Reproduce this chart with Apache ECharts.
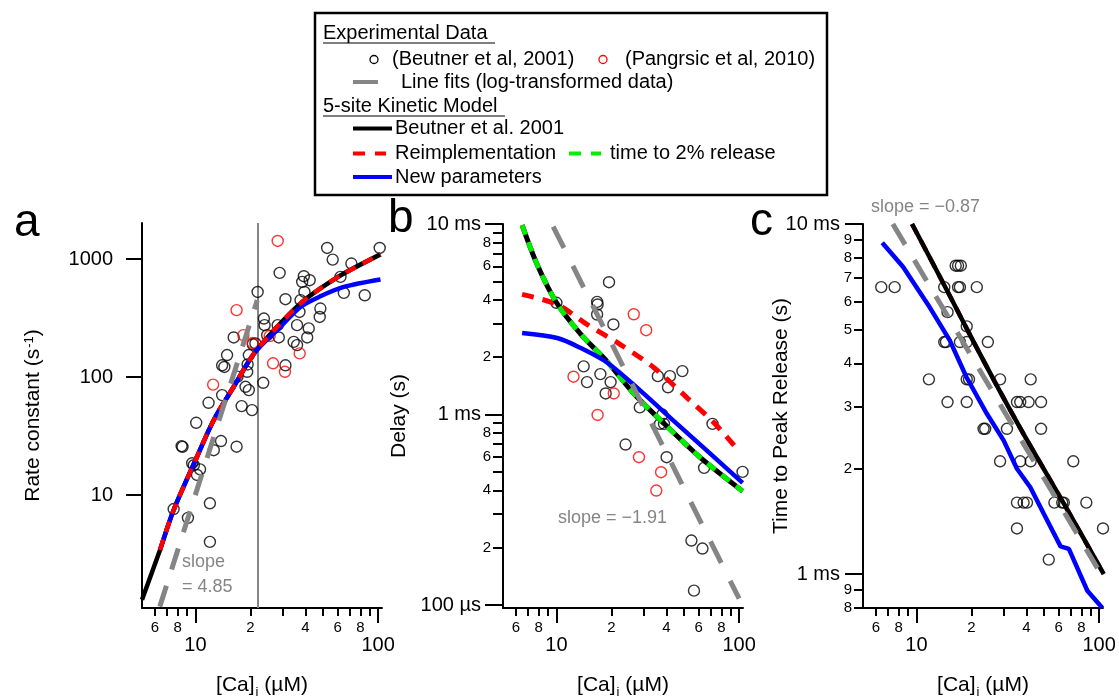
<!DOCTYPE html>
<html><head><meta charset="utf-8">
<script src="https://cdn.jsdelivr.net/npm/echarts@6/dist/echarts.min.js"></script>
<style>html,body{margin:0;padding:0;background:#fff}#c{width:1119px;height:698px}</style>
</head><body><div id="c"></div>
<script>
// ================= DATA =================
const caMin = 5.1, caMax = 105;
const xMinorTicks = [6, 7, 8, 9, 20, 30, 40, 50, 60, 70, 80, 90];
const xMinorLabels = [6, 8, 20, 40, 60, 80];
const xMajorTicks = [10, 100];

// Panel a: rate constant (s^-1) vs [Ca]i (uM)
const aYMin = 1.1, aYMax = 2030;
const aYTicks = [10, 100, 1000];
const aBeutnerPts = [[7.6,7.6],[9.1,6.4],[12.0,8.5],[12.0,4.0],[8.4,26],[8.5,25.6],[10.1,41],[9.6,18.6],[9.8,17.9],[10.6,16.5],[10.2,14.8],[12.6,24],[13.8,28.7],[16.8,25.7],[11.8,60.6],[14.0,70.4],[17.9,56.8],[20.4,52.5],[14.4,122],[14.0,126],[14.9,154],[16.2,217],[17.0,101],[18.8,82.8],[19.6,77.6],[19.3,128],[19.2,111],[19.6,154],[20.6,190],[21.9,528],[23.5,89.5],[23.7,314],[23.9,276],[24.7,227],[28.2,276],[28.6,217],[28.9,766],[31.1,458],[31.1,126],[34.5,199],[36.0,187],[36.0,276],[37.1,357],[37.6,450],[38.4,643],[39.2,718],[40.9,217],[41.7,259],[42.2,664],[39.5,528],[47.9,324],[48.3,382],[52.6,1247],[56.4,993],[62.2,708],[64.9,518],[71.4,920],[84.5,495],[102,1247],[21.3,193]];
const aPangrsicPts = [[28.2,1429],[16.8,370],[18.3,227],[20.6,195],[25.5,223],[12.5,86.4],[26.6,131],[30.9,111],[37.2,159]];
const aBeutnerModelCa = [5.1, 6.4, 7.6, 10.2, 12.6, 16.2, 20.9, 28, 37.6, 48.3, 64.9, 103];
const aBeutnerModelRate = [1.29, 3.42, 7.46, 21.1, 43.3, 82.8, 158, 267, 422, 565, 757, 1100];
const aReimplCa = [6.4, 7.6, 10.2, 12.6, 16.2, 20.9, 28, 37.6, 48.3, 64.9, 103];
const aReimplRate = [3.42, 7.46, 21.1, 43.3, 82.8, 158, 267, 422, 565, 757, 1100];
const aNewCa = [6.4, 7.6, 10.2, 12.6, 16.2, 20.9, 29.2, 37.6, 48.3, 64.9, 103];
const aNewRate = [3.42, 7.46, 21.1, 43.3, 82.8, 158, 267, 394, 485, 582, 673];
const aFitCa = [6.38, 21.8];
const aFitRate = [1.13, 450];
const aMarkCa = 22;

// Panel b: delay (s)
const bYMin = 0.0000965, bYMax = 0.01;
const bYMinorTicks = [2e-4,3e-4,4e-4,5e-4,6e-4,7e-4,8e-4,9e-4,2e-3,3e-3,4e-3,5e-3,6e-3,7e-3,8e-3,9e-3];
const bYMinorLabels = [2e-4,4e-4,6e-4,8e-4,2e-3,4e-3,6e-3,8e-3];
const bYMajorTicks = [1e-4, 1e-3, 1e-2];
const bBeutnerPts = [[10.0,3.86e-3],[16.7,3.90e-3],[16.8,3.78e-3],[16.7,3.35e-3],[19.4,4.95e-3],[20.5,2.97e-3],[14.1,1.79e-3],[14.7,1.48e-3],[17.4,1.63e-3],[19.8,1.48e-3],[18.6,1.29e-3],[28.6,1.09e-3],[23.9,0.696e-3],[35.9,1.59e-3],[41.8,1.59e-3],[40.8,1.39e-3],[48.9,1.69e-3],[38.0,1.0e-3],[36.9,0.893e-3],[38.8,0.893e-3],[71.5,0.893e-3],[40.1,0.597e-3],[64.3,0.525e-3],[104.4,0.5e-3],[54.8,0.218e-3],[63.0,0.198e-3],[56.6,0.119e-3]];
const bPangrsicPts = [[12.4,1.58e-3],[20.6,1.29e-3],[16.8,0.995e-3],[26.5,3.36e-3],[31.0,2.77e-3],[28.3,0.597e-3],[37.4,0.498e-3],[35.2,0.399e-3]];
const bBeutnerModelCa = [6.49, 7.83, 10, 13.5, 19, 26.5, 38.8, 61.6, 104.5];
const bBeutnerModelDelay = [9.86e-3, 6.15e-3, 3.87e-3, 2.66e-3, 1.89e-3, 1.29e-3, 0.897e-3, 0.592e-3, 0.396e-3];
const b2pctCa = [6.49, 7.83, 10, 13.5, 19, 26.5, 38.8, 61.6, 104.5];
const b2pctDelay = [9.86e-3, 6.15e-3, 3.87e-3, 2.66e-3, 1.89e-3, 1.29e-3, 0.897e-3, 0.592e-3, 0.396e-3];
const bReimplCa = [6.49, 10.1, 14.7, 22.4, 34.2, 52.1, 73, 94.6];
const bReimplDelay = [4.27e-3, 3.78e-3, 2.97e-3, 2.33e-3, 1.76e-3, 1.22e-3, 0.904e-3, 0.682e-3];
const bNewCa = [6.49, 10.1, 13.5, 19, 28.9, 44, 67.1, 104.5];
const bNewDelay = [2.68e-3, 2.52e-3, 2.24e-3, 1.87e-3, 1.33e-3, 0.923e-3, 0.642e-3, 0.438e-3];
const bFitCa = [9.6, 100];
const bFitDelay = [9.7e-3, 1.08e-4];

// Panel c: time to peak release (s)
const cYMin = 0.0008, cYMax = 0.01;
const cYMinorTicks = [8e-4,9e-4,2e-3,3e-3,4e-3,5e-3,6e-3,7e-3,8e-3,9e-3];
const cYMajorTicks = [1e-3, 1e-2];
const cBeutnerPts = [[6.42,6.6e-3],[7.6,6.6e-3],[14.2,6.6e-3],[16.9,6.6e-3],[17.3,6.6e-3],[21.4,6.6e-3],[16.4,7.6e-3],[16.9,7.6e-3],[17.5,7.6e-3],[14.8,5.6e-3],[18.85,5.1e-3],[14.2,4.6e-3],[14.5,4.6e-3],[17.3,4.6e-3],[18.85,4.6e-3],[24.6,4.6e-3],[11.7,3.6e-3],[18.85,3.6e-3],[19.4,3.6e-3],[28.7,3.6e-3],[42.2,3.6e-3],[14.8,3.1e-3],[18.85,3.1e-3],[35.5,3.1e-3],[37.0,3.1e-3],[41.1,3.1e-3],[48.1,3.1e-3],[23.3,2.6e-3],[23.8,2.6e-3],[31.3,2.6e-3],[48.1,2.6e-3],[28.7,2.1e-3],[37.0,2.1e-3],[42.2,2.1e-3],[72.2,2.1e-3],[35.5,1.6e-3],[38.6,1.6e-3],[40.3,1.6e-3],[56.9,1.6e-3],[62.8,1.6e-3],[64.1,1.6e-3],[85.1,1.6e-3],[35.5,1.35e-3],[105,1.35e-3],[53.0,1.1e-3]];
const cBeutnerModelCa = [9.46, 10.65, 15.3, 20.9, 27.5, 38.6, 64.1, 106];
const cBeutnerModelTime = [10e-3, 8.9e-3, 6.21e-3, 4.53e-3, 3.46e-3, 2.51e-3, 1.59e-3, 1.0e-3];
const cReimplCa = [9.46, 10.65, 15.3, 20.9, 27.5, 38.6, 64.1, 106];
const cReimplTime = [10e-3, 8.9e-3, 6.21e-3, 4.53e-3, 3.46e-3, 2.51e-3, 1.59e-3, 1.0e-3];
const cNewCa = [6.5, 8.44, 11.8, 15.2, 18.8, 24.3, 30.0, 35.5, 42.0, 49.7, 61.5, 68.3, 86.2, 104.2];
const cNewTime = [8.84e-3, 7.55e-3, 5.79e-3, 4.66e-3, 3.65e-3, 2.87e-3, 2.41e-3, 2.0e-3, 1.77e-3, 1.49e-3, 1.2e-3, 1.18e-3, 0.896e-3, 0.80e-3];
const cFitCa = [7.43, 97.9];
const cFitTime = [10e-3, 1.04e-3];

// ================= CHART =================
const FONT = 'Liberation Sans, Arial, Helvetica, sans-serif';
const GRAY = '#858585';
function mant(v){ const e = Math.floor(Math.log10(v) + 1e-9); return String(Math.round(v / Math.pow(10, e))); }
function pairs(xs, ys){ return xs.map((x, i) => [x, ys[i]]); }
function near(a, b){ return Math.abs(Math.log10(a) - Math.log10(b)) < 1e-6; }
function timeLabel(v){
  if (near(v, 1e-2)) return '10 ms';
  if (near(v, 1e-3)) return '1 ms';
  if (near(v, 1e-4)) return '100 µs';
  return '';
}
const titleRich = {
  m: {fontSize: 21, lineHeight: 22, fontFamily: FONT, color: '#000', verticalAlign: 'top'},
  s: {fontSize: 13, lineHeight: 13, fontFamily: FONT, color: '#000', verticalAlign: 'top', padding: [11, 0, 0, 1]},
  p: {fontSize: 13, lineHeight: 13, fontFamily: FONT, color: '#000', verticalAlign: 'top', padding: [0, 0, 0, 1]}
};
const axLine = {show: true, onZero: false, lineStyle: {color: '#000', width: 2}};

function xAxesFor(k){
  return [
    {type: 'log', logBase: 10, gridIndex: k, position: 'bottom', min: caMin, max: caMax,
     axisLine: axLine,
     axisTick: {show: true, customValues: xMinorTicks, length: 8, lineStyle: {color: '#000', width: 2}},
     axisLabel: {show: true, customValues: xMinorLabels, formatter: mant, fontSize: 15, margin: 12, color: '#000', fontFamily: FONT},
     splitLine: {show: false}, minorTick: {show: false}},
    {type: 'log', logBase: 10, gridIndex: k, position: 'bottom', min: caMin, max: caMax,
     axisLine: {show: false},
     axisTick: {show: true, customValues: xMajorTicks, length: 15, lineStyle: {color: '#000', width: 2}},
     axisLabel: {show: true, customValues: xMajorTicks, formatter: v => String(Math.round(v)), fontSize: 20, margin: 27, color: '#000', fontFamily: FONT},
     splitLine: {show: false},
     name: '{m|[Ca]}{s|i}{m| (µM)}', nameLocation: 'middle', nameGap: 67, nameMoveOverlap: false,
     nameTextStyle: {rich: titleRich}}
  ];
}

const xAxes = [].concat(xAxesFor(0), xAxesFor(1), xAxesFor(2));

const yAxes = [
  {type: 'log', logBase: 10, gridIndex: 0, position: 'left', min: aYMin, max: aYMax,
   axisLine: axLine,
   axisTick: {show: true, customValues: aYTicks, length: 16, lineStyle: {color: '#000', width: 2}},
   axisLabel: {show: true, customValues: aYTicks, formatter: v => String(Math.round(v)), fontSize: 20, margin: 29, color: '#000', fontFamily: FONT},
   splitLine: {show: false},
   name: '{m|Rate constant (s}{p|-1}{m|)}', nameLocation: 'middle', nameGap: 97, nameMoveOverlap: false,
   nameTextStyle: {rich: titleRich}},
  {type: 'log', logBase: 10, gridIndex: 1, position: 'left', min: bYMin, max: bYMax,
   axisLine: axLine,
   axisTick: {show: true, customValues: bYMinorTicks, length: 10, lineStyle: {color: '#000', width: 2}},
   axisLabel: {show: true, customValues: bYMinorLabels, formatter: mant, fontSize: 15, margin: 12, color: '#000', fontFamily: FONT},
   splitLine: {show: false}},
  {type: 'log', logBase: 10, gridIndex: 1, position: 'left', min: bYMin, max: bYMax,
   axisLine: {show: false},
   axisTick: {show: true, customValues: bYMajorTicks, length: 18, lineStyle: {color: '#000', width: 2}},
   axisLabel: {show: true, customValues: bYMajorTicks, formatter: timeLabel, fontSize: 20, margin: 22, color: '#000', fontFamily: FONT},
   splitLine: {show: false},
   name: '{m|Delay (s)}', nameLocation: 'middle', nameGap: 92, nameMoveOverlap: false,
   nameTextStyle: {rich: titleRich}},
  {type: 'log', logBase: 10, gridIndex: 2, position: 'left', min: cYMin, max: cYMax,
   axisLine: axLine,
   axisTick: {show: true, customValues: cYMinorTicks, length: 9, lineStyle: {color: '#000', width: 2}},
   axisLabel: {show: true, customValues: cYMinorTicks, formatter: mant, fontSize: 15, margin: 11, color: '#000', fontFamily: FONT},
   splitLine: {show: false}},
  {type: 'log', logBase: 10, gridIndex: 2, position: 'left', min: cYMin, max: cYMax,
   axisLine: {show: false},
   axisTick: {show: true, customValues: cYMajorTicks, length: 18, lineStyle: {color: '#000', width: 2}},
   axisLabel: {show: true, customValues: cYMajorTicks, formatter: timeLabel, fontSize: 20, margin: 23, color: '#000', fontFamily: FONT},
   splitLine: {show: false},
   name: '{m|Time to Peak Release (s)}', nameLocation: 'middle', nameGap: 70, nameMoveOverlap: false,
   nameTextStyle: {rich: titleRich}}
];

function scat(xi, yi, pts, color, extra){
  return Object.assign({type: 'scatter', xAxisIndex: xi, yAxisIndex: yi, data: pts, symbol: 'circle', symbolSize: 11,
    itemStyle: {color: 'rgba(0,0,0,0)', borderColor: color, borderWidth: 1.4}, silent: true, z: 2}, extra || {});
}
function line(xi, yi, xs, ys, color, width, dash, z, smooth){
  return {type: 'line', xAxisIndex: xi, yAxisIndex: yi, data: pairs(xs, ys), showSymbol: false, symbol: 'none',
    smooth: smooth === undefined ? 0.3 : smooth, silent: true, z: z,
    lineStyle: {color: color, width: width, type: dash || 'solid', cap: 'butt'}};
}

const series = [
  // ---- panel a ----
  scat(0, 0, aBeutnerPts, '#000', {markLine: {silent: true, symbol: ['none', 'none'], label: {show: false},
      lineStyle: {color: GRAY, width: 2, type: 'solid'}, data: [{xAxis: aMarkCa}], z: 1}}),
  scat(0, 0, aPangrsicPts, '#ff0000'),
  line(0, 0, aBeutnerModelCa, aBeutnerModelRate, '#000', 4.5, 'solid', 3),
  line(0, 0, aNewCa, aNewRate, '#0000ff', 4.5, 'solid', 4),
  line(0, 0, aReimplCa, aReimplRate, '#ff0000', 4.5, [11, 8], 5),
  line(0, 0, aFitCa, aFitRate, GRAY, 5, [22, 17], 6, false),
  // ---- panel b ----
  scat(2, 1, bBeutnerPts, '#000'),
  scat(2, 1, bPangrsicPts, '#ff0000'),
  line(2, 1, bReimplCa, bReimplDelay, '#ff0000', 5, [12, 9], 3),
  line(2, 1, bBeutnerModelCa, bBeutnerModelDelay, '#000', 5, 'solid', 4),
  line(2, 1, b2pctCa, b2pctDelay, '#00ee00', 5, [10, 8], 5),
  line(2, 1, bNewCa, bNewDelay, '#0000ff', 4.5, 'solid', 6),
  line(2, 1, bFitCa, bFitDelay, GRAY, 5, [24, 20], 7, false),
  // ---- panel c ----
  scat(4, 3, cBeutnerPts, '#000'),
  line(4, 3, cNewCa, cNewTime, '#0000ff', 4.5, 'solid', 3, false),
  line(4, 3, cReimplCa, cReimplTime, '#ff0000', 4.5, [11, 8], 4, 0.2),
  line(4, 3, cBeutnerModelCa, cBeutnerModelTime, '#000', 4.5, 'solid', 5, 0.2),
  line(4, 3, cFitCa, cFitTime, GRAY, 5, [24, 18], 6, false)
];

function txt(x, y, s, size, color, extra){
  return Object.assign({type: 'text', x: x, y: y, silent: true,
    style: {text: s, fontSize: size, fontFamily: FONT, fill: color || '#000', align: 'left', verticalAlign: 'middle'}}, extra || {});
}
function seg(x1, y1, x2, y2, color, w, dash){
  return {type: 'line', silent: true, shape: {x1: x1, y1: y1, x2: x2, y2: y2},
    style: {stroke: color, lineWidth: w, lineDash: dash || null}};
}
function circ(cx, cy, color){
  return {type: 'circle', silent: true, shape: {cx: cx, cy: cy, r: 4}, style: {fill: 'none', stroke: color, lineWidth: 1.3}};
}

const graphic = [
  {type: 'rect', silent: true, shape: {x: 315, y: 13, width: 512, height: 182}, style: {fill: '#fff', stroke: '#000', lineWidth: 2.5}},
  txt(323, 33, 'Experimental Data', 20),
  seg(323, 43, 495, 43, '#000', 1.2),
  circ(374, 59.5, '#000'),
  txt(392, 59.5, '(Beutner et al, 2001)', 20),
  circ(603, 59.5, '#ff0000'),
  txt(625, 59.5, '(Pangrsic et al, 2010)', 20),
  seg(353, 82, 378, 82, GRAY, 4),
  txt(401, 82, 'Line fits (log-transformed data)', 20),
  txt(323, 106, '5-site Kinetic Model', 20),
  seg(323, 116, 505, 116, '#000', 1.2),
  seg(353, 128.5, 392, 128.5, '#000', 4),
  txt(395, 128.5, 'Beutner et al. 2001', 20),
  seg(353, 153.5, 386, 153.5, '#ff0000', 4, [12, 10]),
  txt(395, 153.5, 'Reimplementation', 20),
  seg(569, 153.5, 601, 153.5, '#00ee00', 4, [12, 10]),
  txt(610, 153.5, 'time to 2% release', 20),
  seg(353, 177, 392, 177, '#0000ff', 4),
  txt(395, 177, 'New parameters', 20),
  txt(14, 223, 'a', 46),
  txt(388, 219, 'b', 46),
  txt(750, 222, 'c', 46),
  txt(182, 562, 'slope', 18, GRAY),
  txt(182, 587, '= 4.85', 18, GRAY),
  txt(558, 518, 'slope = \u22121.91', 18, GRAY),
  txt(871, 207, 'slope = \u22120.87', 18, GRAY)
];

const option = {
  animation: false,
  backgroundColor: '#fff',
  textStyle: {fontFamily: FONT},
  grid: [
    {left: 142, top: 223, width: 240, height: 385, containLabel: false, outerBoundsMode: 'none'},
    {left: 503, top: 224, width: 240, height: 384, containLabel: false, outerBoundsMode: 'none'},
    {left: 863, top: 224, width: 240, height: 384, containLabel: false, outerBoundsMode: 'none'}
  ],
  xAxis: xAxes,
  yAxis: yAxes,
  series: series,
  graphic: graphic
};

const chart = echarts.init(document.getElementById('c'), null, {renderer: 'canvas'});
chart.setOption(option);
</script>
</body></html>
